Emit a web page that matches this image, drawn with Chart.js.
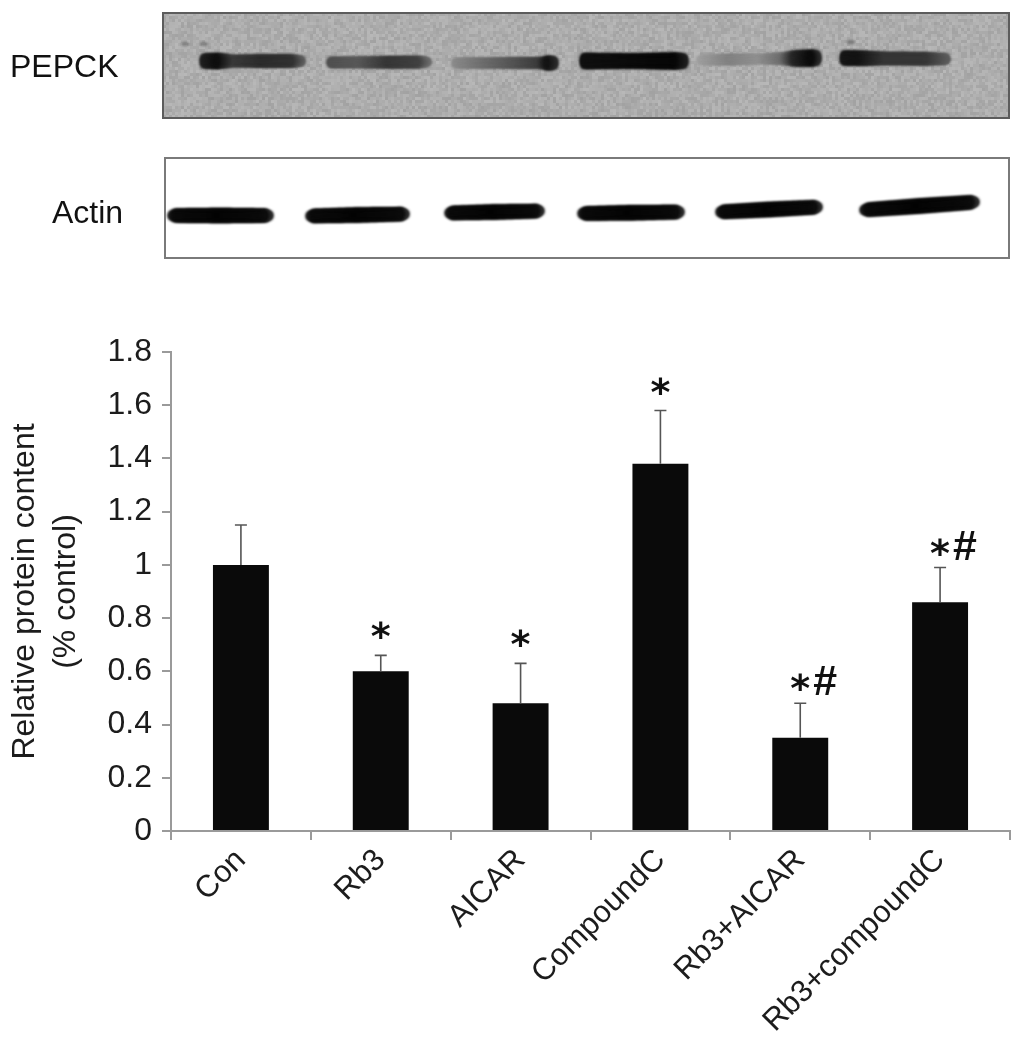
<!DOCTYPE html>
<html>
<head>
<meta charset="utf-8">
<script src="https://cdn.jsdelivr.net/npm/chart.js@4/dist/chart.umd.min.js"></script>
<style>
  html, body { margin: 0; padding: 0; background: #ffffff; }
  #wrap { position: relative; width: 1022px; height: 1057px; }
  #chart { position: absolute; left: 0; top: 0; }
  #blot { position: absolute; left: 0; top: 0; }
</style>
</head>
<body>
<div id="wrap">
  <canvas id="chart" width="1022" height="1057"></canvas>
  <canvas id="blot" width="1022" height="280"></canvas>
</div>
<script>
// ---------------- data ----------------
const categories = ['Con', 'Rb3', 'AICAR', 'CompoundC', 'Rb3+AICAR', 'Rb3+compoundC'];
const means = [1.00, 0.60, 0.48, 1.38, 0.35, 0.86];
const errors = [0.15, 0.06, 0.15, 0.20, 0.13, 0.13];
const marks = ['', '*', '*', '*', '*#', '*#'];
const yTickValues = [0, 0.2, 0.4, 0.6, 0.8, 1, 1.2, 1.4, 1.6, 1.8];
const yTitle = ['Relative protein content', '(% control)'];
const blotLabels = ['PEPCK', 'Actin'];

// ---------------- blot picture (decorative image, not chart data) ----------------
const pepckLanes = [
  { x0: 203, x1: 302, y0: 61, y1: 61, stops: [[0, 35, 14], [0.15, 15, 15], [0.3, 60, 11], [0.6, 45, 12], [0.9, 50, 12], [1, 90, 9]] },
  { x0: 330, x1: 428, y0: 62.5, y1: 62, stops: [[0, 80, 10], [0.3, 90, 10], [0.6, 55, 11], [0.9, 65, 11], [1, 105, 8]] },
  { x0: 455, x1: 555, y0: 63, y1: 63, stops: [[0, 140, 9], [0.3, 110, 9], [0.6, 85, 10], [0.85, 60, 10], [0.93, 20, 14], [1, 40, 12]] },
  { x0: 583, x1: 685, y0: 61, y1: 61, stops: [[0, 18, 15], [0.5, 12, 14], [0.9, 8, 16], [1, 28, 14]] },
  { x0: 700, x1: 818, y0: 60, y1: 58, stops: [[0, 160, 8], [0.25, 130, 10], [0.5, 145, 8], [0.7, 110, 11], [0.8, 40, 15], [0.95, 12, 16], [1, 40, 14]] },
  { x0: 843, x1: 947, y0: 58, y1: 59, stops: [[0, 25, 14], [0.15, 20, 14], [0.4, 55, 12], [0.8, 55, 12], [1, 90, 10]] }
];
const actinLanes = [
  { x0: 171, x1: 270, y0: 215.5, y1: 215.5 },
  { x0: 309, x1: 406, y0: 216, y1: 214 },
  { x0: 448, x1: 541, y0: 213, y1: 211 },
  { x0: 581, x1: 681, y0: 213.5, y1: 212 },
  { x0: 719, x1: 819, y0: 212, y1: 207 },
  { x0: 863, x1: 976, y0: 210, y1: 202 }
];

function hash(i, j) {
  const s = Math.sin(i * 12.9898 + j * 78.233) * 43758.5453;
  return s - Math.floor(s);
}

function drawLane(ctx, lane, stops) {
  ctx.save();
  ctx.globalCompositeOperation = 'darken';
  ctx.filter = 'blur(1.8px)';
  const n = Math.max(40, Math.round(lane.x1 - lane.x0));
  for (let k = 0; k <= n; k++) {
    const t = k / n;
    let a = stops[0], b = stops[stops.length - 1];
    for (let s = 0; s < stops.length - 1; s++) {
      if (t >= stops[s][0] && t <= stops[s + 1][0]) { a = stops[s]; b = stops[s + 1]; break; }
    }
    const f = b[0] === a[0] ? 0 : (t - a[0]) / (b[0] - a[0]);
    const g = Math.round(a[1] + (b[1] - a[1]) * f);
    const h = a[2] + (b[2] - a[2]) * f;
    const x = lane.x0 + t * (lane.x1 - lane.x0);
    const y = lane.y0 + t * (lane.y1 - lane.y0);
    ctx.fillStyle = 'rgb(' + g + ',' + g + ',' + g + ')';
    ctx.beginPath();
    ctx.ellipse(x, y, 3.5, h / 2, 0, 0, Math.PI * 2);
    ctx.fill();
  }
  ctx.restore();
}

function drawBlot() {
  const c = document.getElementById('blot');
  const ctx = c.getContext('2d');
  // PEPCK panel
  const px0 = 163, py0 = 13, px1 = 1009, py1 = 118;
  ctx.fillStyle = '#adadad';
  ctx.fillRect(px0, py0, px1 - px0, py1 - py0);
  for (let i = px0; i < px1; i += 3) {
    for (let j = py0; j < py1; j += 3) {
      const v = 173 + Math.round((hash(i, j) - 0.5) * 22);
      ctx.fillStyle = 'rgb(' + v + ',' + v + ',' + v + ')';
      ctx.fillRect(i, j, 3, 3);
    }
  }
  pepckLanes.forEach(l => drawLane(ctx, l, l.stops));
  // small smudges above lanes
  ctx.save();
  ctx.filter = 'blur(1px)';
  ctx.fillStyle = 'rgba(90,90,90,0.6)';
  [[185, 44], [204, 44], [851, 42]].forEach(p => { ctx.beginPath(); ctx.ellipse(p[0], p[1], 4, 2, 0, 0, Math.PI * 2); ctx.fill(); });
  ctx.restore();
  ctx.strokeStyle = '#5c5c5c';
  ctx.lineWidth = 2;
  ctx.strokeRect(px0, py0, px1 - px0, py1 - py0);

  // Actin panel
  const ax0 = 165, ay0 = 158, ax1 = 1009, ay1 = 258;
  ctx.fillStyle = '#ffffff';
  ctx.fillRect(ax0, ay0, ax1 - ax0, ay1 - ay0);
  const actinStops = [[0, 40, 8], [0.04, 12, 13], [0.5, 6, 14], [0.96, 12, 13], [1, 40, 8]];
  actinLanes.forEach(l => drawLane(ctx, l, actinStops));
  ctx.strokeStyle = '#7a7a7a';
  ctx.lineWidth = 2;
  ctx.strokeRect(ax0, ay0, ax1 - ax0, ay1 - ay0);

  // labels
  ctx.fillStyle = '#111111';
  ctx.font = '32px "Liberation Sans", Arial, sans-serif';
  ctx.textBaseline = 'alphabetic';
  ctx.textAlign = 'left';
  ctx.fillText(blotLabels[0], 10, 77);
  ctx.fillText(blotLabels[1], 52, 223);
}
drawBlot();

// ---------------- chart ----------------
const axisColor = '#9a9a9a';
const textColor = '#1c1c1c';
const fontFamily = '"Liberation Sans", Arial, sans-serif';

const errorAndMarks = {
  id: 'errorAndMarks',
  afterDatasetsDraw(chart) {
    const ctx = chart.ctx;
    const xS = chart.scales.x, yS = chart.scales.y;
    ctx.save();
    means.forEach((m, i) => {
      const x = xS.getPixelForValue(i);
      const yTop = yS.getPixelForValue(m);
      const yE = yS.getPixelForValue(m + errors[i]);
      ctx.strokeStyle = '#555555';
      ctx.lineWidth = 1.6;
      ctx.beginPath();
      ctx.moveTo(x, yTop);
      ctx.lineTo(x, yE);
      ctx.moveTo(x - 6, yE);
      ctx.lineTo(x + 6, yE);
      ctx.stroke();

      const mk = marks[i];
      ctx.fillStyle = '#111111';
      ctx.textAlign = 'left';
      ctx.textBaseline = 'alphabetic';
      if (mk.indexOf('*') >= 0) {
        const fam = 'bold {s}px "DejaVu Sans", sans-serif';
        ctx.font = fam.replace('{s}', '40');
        let mt = ctx.measureText('*');
        let w = mt.actualBoundingBoxRight + mt.actualBoundingBoxLeft;
        const size = 40 * 20 / w;
        ctx.font = fam.replace('{s}', size.toFixed(1));
        mt = ctx.measureText('*');
        w = mt.actualBoundingBoxRight + mt.actualBoundingBoxLeft;
        const cy = yE - (mk.indexOf('#') >= 0 ? 21 : 25);
        const dx = x - w / 2 + mt.actualBoundingBoxLeft;
        const dy = cy + (mt.actualBoundingBoxAscent - mt.actualBoundingBoxDescent) / 2;
        ctx.fillText('*', dx, dy);
      }
      if (mk.indexOf('#') >= 0) {
        const fam = 'bold {s}px ' + fontFamily;
        ctx.font = fam.replace('{s}', '40');
        let mt = ctx.measureText('#');
        const h = mt.actualBoundingBoxAscent + mt.actualBoundingBoxDescent;
        const size = 40 * 30 / h;
        ctx.font = fam.replace('{s}', size.toFixed(1));
        mt = ctx.measureText('#');
        const bottom = yE - 8;
        ctx.fillText('#', x + 13 + mt.actualBoundingBoxLeft, bottom - mt.actualBoundingBoxDescent);
      }
    });
    ctx.restore();
  }
};

new Chart(document.getElementById('chart'), {
  type: 'bar',
  data: {
    labels: categories,
    datasets: [{
      data: means,
      backgroundColor: '#0a0a0a',
      borderWidth: 0,
      barPercentage: 0.4,
      categoryPercentage: 1.0
    }]
  },
  options: {
    responsive: false,
    devicePixelRatio: 1,
    animation: false,
    layout: { padding: { top: 352, right: 12, left: 0, bottom: 0 } },
    plugins: { legend: { display: false }, tooltip: { enabled: false } },
    scales: {
      x: {
        grid: { display: true, drawOnChartArea: false, drawTicks: true, tickLength: 9, color: axisColor, lineWidth: 2, offset: true },
        border: { display: true, color: axisColor, width: 2 },
        ticks: {
          font: { family: fontFamily, size: 31 },
          color: textColor,
          minRotation: 45, maxRotation: 45,
          autoSkip: false,
          padding: 2
        },
        afterFit: s => { s.height = 226; }
      },
      y: {
        min: 0, max: 1.8,
        afterBuildTicks: s => { s.ticks = yTickValues.map(v => ({ value: v })); },
        grid: { display: true, drawOnChartArea: false, drawTicks: true, tickLength: 9, color: axisColor, lineWidth: 2 },
        border: { display: true, color: axisColor, width: 2 },
        ticks: {
          font: { family: fontFamily, size: 32 },
          color: textColor,
          padding: 10,
          callback: v => String(parseFloat(Number(v).toFixed(1)))
        },
        title: {
          display: true,
          text: yTitle,
          font: { family: fontFamily, size: 32, lineHeight: 1.3 },
          color: textColor,
          padding: { top: 4, bottom: 0 }
        },
        afterFit: s => { s.width = 171; }
      }
    }
  },
  plugins: [errorAndMarks]
});
</script>
</body>
</html>
